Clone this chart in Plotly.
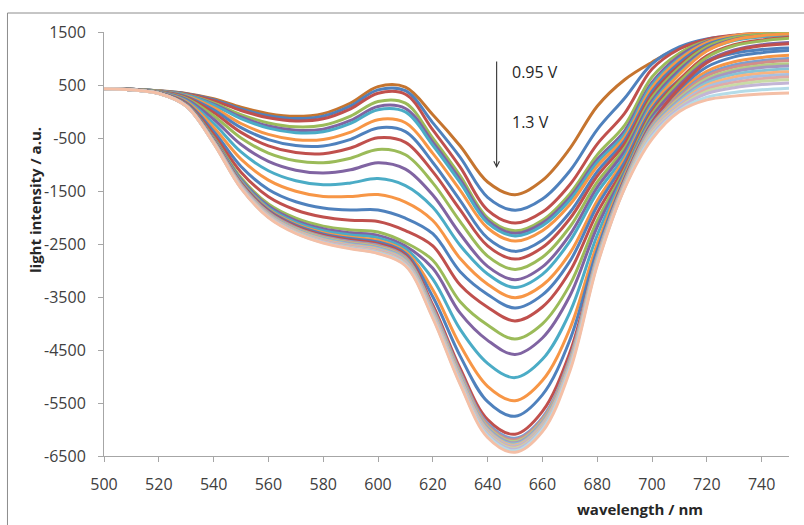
import plotly.graph_objects as go

wavelength = [500, 510, 520, 530, 540, 550, 560, 570, 580, 590, 600, 610, 620,
              630, 640, 650, 660, 670, 680, 690, 700, 710, 720, 730, 740, 750]

x_ticks = [500, 520, 540, 560, 580, 600, 620, 640, 660, 680, 700, 720, 740]
y_ticks = [1500, 500, -500, -1500, -2500, -3500, -4500, -5500, -6500]
y_tick_text = ["1500", "500", "-500", "-1500", "-2500", "-3500", "-4500", "-5500", "-6500"]

k01 = [430,420,390,340,240,80,-40,-90,-40,160,470,460,-60,-650,-1330,-1570,-1300,-700,100,600,930,1200,1320,1380,1420,1440]
k02 = [430,420,389,335,223,49,-79,-134,-89,105,408,393,-214,-866,-1619,-1862,-1651,-1122,-341,251,900,1220,1370,1430,1465,1480]
k03 = [430,420,388,330,206,19,-118,-178,-138,50,345,326,-348,-1051,-1860,-2105,-1898,-1381,-615,-36,800,1180,1360,1440,1475,1490]
k04 = [430,419,386,318,164,-58,-216,-289,-260,-87,189,158,-502,-1213,-2005,-2250,-2051,-1554,-818,-261,650,1100,1330,1420,1460,1470]
k05 = [430,419,384,311,139,-104,-275,-355,-333,-169,96,57,-578,-1285,-2053,-2299,-2106,-1622,-906,-364,550,1050,1320,1430,1475,1490]
k06 = [430,419,383,306,122,-134,-314,-399,-382,-224,33,-10,-636,-1343,-2101,-2348,-2156,-1675,-963,-425,500,1000,1300,1420,1465,1480]
k07 = [430,418,380,292,72,-226,-432,-532,-528,-388,-154,-212,-790,-1487,-2198,-2445,-2249,-1760,-1035,-487,450,980,1300,1430,1480,1500]
k08 = [430,418,378,280,30,-303,-530,-643,-650,-525,-310,-380,-962,-1681,-2390,-2639,-2430,-1907,-1133,-548,380,920,1260,1400,1450,1470]
k09 = [430,417,375,266,-20,-394,-648,-775,-796,-689,-497,-582,-1135,-1856,-2535,-2785,-2568,-2024,-1219,-610,320,870,1230,1380,1440,1460]
k10 = [430,416,371,249,-79,-501,-785,-930,-967,-881,-716,-817,-1346,-2077,-2728,-2979,-2750,-2179,-1332,-692,260,830,1220,1390,1455,1480]
k11 = [430,415,367,230,-146,-624,-942,-1107,-1162,-1100,-965,-1086,-1577,-2311,-2921,-3174,-2932,-2327,-1431,-753,200,780,1180,1360,1425,1450]
k12 = [430,414,362,208,-222,-762,-1118,-1306,-1382,-1347,-1266,-1398,-1807,-2527,-3065,-3320,-3072,-2450,-1531,-835,150,730,1150,1340,1410,1440]
k13 = [430,414,358,186,-298,-899,-1294,-1504,-1602,-1604,-1567,-1710,-2057,-2774,-3258,-3514,-3278,-2677,-1682,-897,100,700,1140,1350,1430,1460]
k14 = [430,413,354,165,-373,-1037,-1471,-1703,-1821,-1860,-1858,-2013,-2306,-3022,-3451,-3708,-3461,-2828,-1783,-958,50,600,950,1100,1170,1200]
k15 = [430,412,350,148,-432,-1144,-1608,-1858,-1992,-2052,-2076,-2248,-2537,-3274,-3692,-3951,-3689,-3019,-1913,-1040,0,600,1050,1260,1350,1400]
k16 = [430,411,347,131,-491,-1251,-1745,-2013,-2163,-2234,-2274,-2473,-2806,-3589,-4029,-4292,-4005,-3271,-2059,-1102,-50,560,1020,1240,1330,1380]
k17 = [430,411,346,126,-508,-1282,-1784,-2057,-2212,-2289,-2337,-2540,-2959,-3805,-4318,-4583,-4273,-3482,-2175,-1143,-100,500,950,1160,1260,1300]
k18 = [430,411,345,123,-520,-1305,-1814,-2090,-2248,-2330,-2384,-2591,-3163,-4111,-4752,-5021,-4676,-3793,-2335,-1184,-150,350,700,870,950,980]
k19 = [430,411,344,119,-533,-1328,-1843,-2123,-2285,-2371,-2430,-2641,-3362,-4412,-5186,-5458,-5077,-4103,-2495,-1225,-180,380,760,940,1020,1060]
k20 = [430,411,344,117,-541,-1343,-1863,-2145,-2309,-2398,-2462,-2675,-3497,-4615,-5475,-5750,-5346,-4315,-2611,-1266,-200,420,840,1030,1110,1150]
k21 = [430,411,343,114,-550,-1358,-1882,-2167,-2334,-2426,-2493,-2708,-3650,-4849,-5813,-6090,-5658,-4553,-2727,-1286,-220,450,920,1140,1240,1280]
p01 = [430,410,342,112,-558,-1374,-1902,-2190,-2358,-2453,-2524,-2742,-3700,-4912,-5885,-6163,-5775,-4658,-2715,-1307,-250,300,700,880,960,1000]
p02 = [430,410,342,111,-562,-1381,-1912,-2201,-2370,-2467,-2540,-2759,-3723,-4939,-5919,-6197,-5807,-4687,-2739,-1327,-270,280,670,840,920,960]
p03 = [430,410,342,110,-566,-1389,-1922,-2212,-2382,-2480,-2555,-2776,-3743,-4966,-5948,-6226,-5835,-4712,-2758,-1341,-290,250,620,790,870,900]
p04 = [430,410,342,108,-571,-1396,-1931,-2223,-2395,-2494,-2571,-2792,-3762,-4988,-5972,-6250,-5858,-4733,-2775,-1356,-310,220,580,750,830,860]
p05 = [430,410,342,107,-575,-1404,-1941,-2234,-2407,-2508,-2586,-2809,-3781,-5011,-5996,-6274,-5882,-4753,-2791,-1368,-330,190,540,700,770,800]
p06 = [430,410,341,106,-579,-1412,-1951,-2245,-2419,-2522,-2602,-2826,-3800,-5029,-6015,-6294,-5901,-4771,-2807,-1382,-350,160,500,650,720,750]
p07 = [430,410,341,105,-583,-1419,-1961,-2256,-2431,-2535,-2618,-2843,-3816,-5047,-6034,-6313,-5920,-4789,-2823,-1397,-370,130,460,600,670,700]
p08 = [430,410,341,104,-587,-1427,-1971,-2267,-2443,-2549,-2633,-2860,-3835,-5069,-6054,-6333,-5939,-4807,-2837,-1409,-390,100,420,550,620,650]
p09 = [430,410,340,102,-592,-1435,-1980,-2278,-2456,-2563,-2649,-2876,-3850,-5087,-6073,-6352,-5958,-4823,-2851,-1421,-410,80,380,500,570,600]
p10 = [430,410,340,102,-594,-1439,-1986,-2285,-2463,-2571,-2658,-2886,-3865,-5105,-6092,-6372,-5977,-4841,-2865,-1432,-440,60,340,450,510,540]
p11 = [430,410,340,101,-597,-1445,-1994,-2293,-2473,-2582,-2670,-2900,-3885,-5132,-6121,-6401,-6004,-4863,-2879,-1440,-480,20,270,360,410,440]
p12 = [430,410,340,100,-600,-1450,-2000,-2300,-2480,-2590,-2680,-2910,-3900,-5150,-6150,-6430,-6040,-4900,-2900,-1450,-520,0,220,290,330,350]

curves = [k01, k02, k03, k04, k05, k06, k07, k08, k09, k10, k11, k12, k13, k14,
          k15, k16, k17, k18, k19, k20, k21, p01, p02, p03, p04, p05, p06, p07,
          p08, p09, p10, p11, p12]

BLUE, RED, GREEN, PURPLE, CYAN, ORANGE = "#4F81BD", "#C0504D", "#9BBB59", "#8064A2", "#4BACC6", "#F79646"
colors = ["#C5742F", BLUE, RED, GREEN, PURPLE, CYAN, ORANGE,
          BLUE, RED, GREEN, PURPLE, CYAN, ORANGE,
          BLUE, RED, GREEN, PURPLE, CYAN, ORANGE, BLUE, RED,
          "#7F9FCC", "#D38D8B", "#B5CC86", "#A896C0", "#86C4D6", "#F9B47F",
          "#A9C0E0", "#E0AAA8", "#C9DBA6", "#C3B6D6", "#B4DCE8", "#F4BFA6"]

fig = go.Figure()
for vals, col in zip(curves, colors):
    fig.add_trace(go.Scatter(x=wavelength, y=vals, mode="lines",
                             line=dict(color=col, width=3, shape="spline", smoothing=1.0),
                             hoverinfo="skip"))

FONT = "Open Sans"
axis_common = dict(showline=True, linecolor="#A6A6A6", linewidth=1, ticks="outside",
                   ticklen=5, tickcolor="#A6A6A6", showgrid=False, zeroline=False,
                   tickfont=dict(family=FONT, size=16, color="#404040"))

fig.update_layout(
    width=804, height=525,
    margin=dict(l=104, r=15, t=32, b=69),
    paper_bgcolor="white", plot_bgcolor="white",
    showlegend=False,
    xaxis=dict(range=[500, 750], tickvals=x_ticks, ticklabelstandoff=9, **axis_common),
    yaxis=dict(range=[-6500, 1500], tickvals=y_ticks, ticktext=y_tick_text,
               ticklabelstandoff=9, **axis_common),
)

# outer chart border (left and top)
fig.add_shape(type="line", xref="paper", yref="paper", x0=-0.1409, x1=-0.1409, y0=-0.2, y1=1.0448,
              line=dict(color="#8C8C8C", width=1))
fig.add_shape(type="line", xref="paper", yref="paper", x0=-0.1409, x1=1.05, y0=1.0448, y1=1.0448,
              line=dict(color="#8C8C8C", width=1))

# axis titles
fig.add_annotation(text="<b>wavelength / nm</b>", xref="paper", yref="paper", x=0.7825, y=-0.125,
                   xanchor="center", yanchor="middle", showarrow=False,
                   font=dict(family=FONT, size=15, color="#262626"))
fig.add_annotation(text="<b>light intensity / a.u.</b>", xref="paper", yref="paper", x=-0.1007, y=0.6038,
                   xanchor="center", yanchor="middle", textangle=-90, showarrow=False,
                   font=dict(family=FONT, size=15, color="#262626"))

# arrow and voltage labels
fig.add_annotation(x=643.3, y=-1066, ax=643.3, ay=972, xref="x", yref="y", axref="x", ayref="y",
                   text="", showarrow=True, arrowhead=5, arrowsize=1, arrowwidth=1.1,
                   arrowcolor="#333333")
fig.add_annotation(text="0.95 V", x=648.2, y=745, xref="x", yref="y", xanchor="left", yanchor="middle",
                   showarrow=False, font=dict(family=FONT, size=16, color="#262626"))
fig.add_annotation(text="1.3 V", x=648.2, y=-189, xref="x", yref="y", xanchor="left", yanchor="middle",
                   showarrow=False, font=dict(family=FONT, size=16, color="#262626"))

fig.write_html("out.html")
